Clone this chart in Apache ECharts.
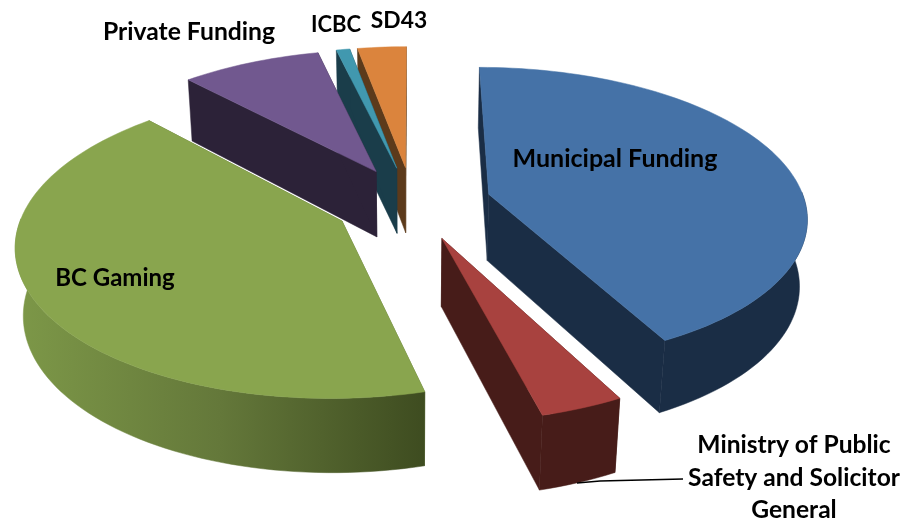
<!DOCTYPE html>
<html>
<head>
<meta charset="utf-8">
<style>html,body{margin:0;padding:0;background:#fff}#c{width:904px;height:523px}</style>
<script src="https://cdn.jsdelivr.net/npm/echarts@6/dist/echarts.min.js"></script>
</head>
<body>
<div id="c"></div>
<script>
const categories = ['Municipal Funding', 'Ministry of Public Safety and Solicitor General', 'BC Gaming', 'Private Funding', 'ICBC', 'SD43'];
const values = [42.35, 3.6, 42.05, 8.3, 0.8, 2.9];

const topColors = ['#4572a7', '#a8423f', '#89a54e', '#71588f', '#4198af', '#db843d'];
const wallColors = ['#1a2d45', '#471c19', '#5e7335', '#2c2238', '#1a3d4a', '#5c3a1b'];
const drawOrder = [5, 4, 3, 0, 1, 2];

const view = { cx: 412.5, cy: 203, rx: 316.5, ry: 147, q: 0.14, h: 68, r: 0.02, explode: 0.25 };
const total = values.reduce((a, b) => a + b, 0);
const TAU = Math.PI * 2;

function project(X, Y, Z) {
  const w = 1 - view.q * Y + view.r * Z;
  return [view.cx + view.rx * X / w, view.cy + (view.ry * Y + view.h * Z) / w];
}

function renderSlice(params, api) {
  const i = params.dataIndex;
  let before = 0;
  for (let k = 0; k < i; k++) before += values[k];
  const a0 = before / total * TAU;
  const a1 = (before + api.value(0)) / total * TAU;
  const mid = (a0 + a1) / 2;
  const ox = Math.sin(mid) * view.explode;
  const oy = -Math.cos(mid) * view.explode;
  const steps = Math.max(3, Math.ceil((a1 - a0) / 0.03));
  const arc = [];
  for (let s = 0; s <= steps; s++) arc.push(a0 + (a1 - a0) * s / steps);
  const rim = (a, z) => project(ox + Math.sin(a), oy - Math.cos(a), z);
  const apex = z => project(ox, oy, z);
  const z0 = drawOrder.indexOf(i) * 10;
  const children = [];
  const wall = (pts, fill, z) => children.push({
    type: 'polygon', z2: z0 + z, shape: { points: pts },
    style: { fill: fill, stroke: fill, lineWidth: 0.5 }
  });
  const flat = wallColors[i];
  wall([apex(0), rim(a0, 0), rim(a0, 1), apex(1)], flat, 1);
  wall([apex(0), rim(a1, 0), rim(a1, 1), apex(1)], flat, 2);
  const front = arc.filter(a => Math.cos(a) <= 0.02);
  if (front.length > 1) {
    const fill = i === 2
      ? new echarts.graphic.LinearGradient(0, 0, 1, 0, [
          { offset: 0, color: '#7d9848' },
          { offset: 0.5, color: '#64783a' },
          { offset: 1, color: '#3e4c20' }
        ])
      : flat;
    wall(front.map(a => rim(a, 0)).concat(front.slice().reverse().map(a => rim(a, 1))), fill, 3);
  }
  const top = [apex(0)].concat(arc.map(a => rim(a, 0)));
  children.push({
    type: 'polygon', z2: z0 + 4, shape: { points: top },
    style: { fill: topColors[i], stroke: topColors[i], lineWidth: 0.5 }
  });
  return { type: 'group', children: children };
}

const label = (text, x, y, size) => ({
  type: 'text', x: x, y: y, z: 10,
  style: { text: text, textAlign: 'center', textVerticalAlign: 'middle',
    fontFamily: 'Lato', fontWeight: 'bold', fontSize: size, fill: '#000' }
});

const chart = echarts.init(document.getElementById('c'));
chart.setOption({
  animation: false,
  backgroundColor: '#fff',
  graphic: { elements: [
    label(categories[0], 615, 159, 25),
    label('Ministry of Public', 794, 445, 24.6),
    label('Safety and Solicitor', 794, 478, 24.6),
    label('General', 794, 510, 24.6),
    label(categories[2], 115, 278, 24),
    label(categories[3], 189, 32, 24.7),
    label(categories[4], 336, 25, 22),
    label(categories[5], 399, 21, 22.8),
    { type: 'polyline', z: 10, shape: { points: [[577, 483], [600, 481], [683, 479]] },
      style: { stroke: '#000', lineWidth: 1.6, fill: null } }
  ] },
  series: [{
    type: 'custom',
    coordinateSystem: 'none',
    renderItem: renderSlice,
    data: values.map((v, i) => ({ name: categories[i], value: [v] })),
    silent: true
  }]
});
</script>
</body>
</html>
